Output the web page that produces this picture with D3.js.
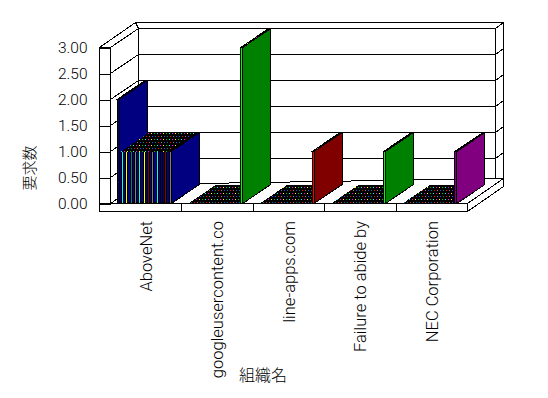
<!DOCTYPE html>
<html>
<head>
<meta charset="utf-8">
<script src="https://cdn.jsdelivr.net/npm/d3@7/dist/d3.min.js"></script>
<style>
body { margin: 0; background: #fff; }
svg { display: block; }
</style>
</head>
<body>
<script>
var categories = ["AboveNet", "googleusercontent.co", "line-apps.com", "Failure to abide by", "NEC Corporation"];
// 13 bars per organisation, left to right
var aboveNetValues = [2, 1, 1, 1, 1, 1, 1, 1, 1, 1, 1, 1, 1];
var googleValues   = [0, 0, 0, 0, 0, 0, 0, 0, 0, 0, 0, 0, 3];
var lineAppsValues = [0, 0, 0, 0, 0, 0, 0, 0, 0, 0, 0, 0, 1];
var failureValues  = [0, 0, 0, 0, 0, 0, 0, 0, 0, 0, 0, 0, 1];
var necValues      = [0, 0, 0, 0, 0, 0, 0, 0, 0, 0, 0, 0, 1];
var yTicks = [0, 0.5, 1, 1.5, 2, 2.5, 3];
var yTitle = "要求数";
var xTitle = "組織名";

// colours
var aboveNetFront = ["#000080", "#00ffff", "#ffff00", "#008080", "#808080", "#00ffff", "#ffff00",
                     "#800000", "#808080", "#00ffff", "#000080", "#800000", "#808080"];
var slabFront = ["#000080", "#00ff00", "#ff0000", "#00ff00", "#800080"];
var slabSide  = ["#000080", "#008000", "#800000", "#008000", "#800080"];

var allValues = [aboveNetValues, googleValues, lineAppsValues, failureValues, necValues];

// geometry of the 3d box
var X0 = 110.5, X1 = 467.5;   // front of plot
var LX = 99.5;                // outer edge of left wall
var FY = 211.5;               // bottom of floor
var DX = 28, DY = -19;        // depth
var TX = 8, TY = -6;          // wall thickness
var W = 2;                    // bar front width
var labelFont = "Roboto, 'Liberation Sans', Arial, sans-serif";

var svg = d3.select("body").append("svg")
    .attr("width", 548)
    .attr("height", 398);

var y = d3.scaleLinear().domain([0, 3]).range([203.5, 47.5]);
var Y0 = y(0), YT = y(3);

var xBand = d3.scaleBand().domain(categories).range([X0, X1]);
var slot = d3.scaleBand().domain(d3.range(13)).range([6.5, 6.5 + 13 * 4.36]);

// dotted fill of the bar tops
var defs = svg.append("defs");
var pat = defs.append("pattern")
    .attr("id", "dots")
    .attr("patternUnits", "userSpaceOnUse")
    .attr("width", 12).attr("height", 6);
pat.append("rect").attr("width", 12).attr("height", 6).attr("fill", "#000");
var dotColors = ["#00ffff", "#ff00ff", "#ffff00", "#00c000", "#ff0000", "#808080", "#4040ff", "#008080"];
var dotPos = [[1, 1], [4, 1], [7, 1], [10, 1], [2, 4], [5, 4], [8, 4], [11, 4]];
dotPos.forEach(function (p, i) {
    pat.append("rect").attr("x", p[0]).attr("y", p[1]).attr("width", 1).attr("height", 1)
        .attr("fill", dotColors[i]);
});

function poly(pts) {
    return pts.map(function (p) { return p.join(","); }).join(" ");
}

var frame = svg.append("g")
    .attr("shape-rendering", "crispEdges")
    .attr("fill", "#fff")
    .attr("stroke", "#000")
    .attr("stroke-width", 1);

// back wall thickness (top and right)
frame.append("polygon").attr("points", poly([[LX + DX + TX, YT + DY + TY], [X1 + DX + TX, YT + DY + TY],
    [X1 + DX, YT + DY], [X0 + DX, YT + DY]]));
frame.append("polygon").attr("points", poly([[X1 + DX, YT + DY], [X1 + DX + TX, YT + DY + TY],
    [X1 + DX + TX, FY + DY + TY], [X1 + DX, Y0 + DY]]));
// back wall
frame.append("rect")
    .attr("x", X0 + DX).attr("y", YT + DY)
    .attr("width", X1 - X0).attr("height", Y0 - YT);
// left wall top and inner side
frame.append("polygon").attr("points", poly([[LX, YT], [X0, YT], [X0 + DX, YT + DY], [LX + DX + TX, YT + DY + TY]]));
frame.append("polygon").attr("points", poly([[X0, YT], [X0 + DX, YT + DY], [X0 + DX, Y0 + DY], [X0, Y0]]));

// grid lines
var grid = yTicks.filter(function (d) { return d > 0 && d < 3; });
frame.selectAll(".hgrid").data(grid).enter().append("line")
    .attr("x1", X0 + DX).attr("x2", X1 + DX)
    .attr("y1", function (d) { return y(d) + DY; })
    .attr("y2", function (d) { return y(d) + DY; });
frame.selectAll(".dgrid").data(grid).enter().append("line")
    .attr("x1", X0).attr("x2", X0 + DX)
    .attr("y1", function (d) { return y(d); })
    .attr("y2", function (d) { return y(d) + DY; });
frame.selectAll(".rgrid").data(grid).enter().append("line")
    .attr("x1", X1 + DX).attr("x2", X1 + DX + TX)
    .attr("y1", function (d) { return y(d) + DY; })
    .attr("y2", function (d) { return y(d) + DY + TY; });

// floor
frame.append("polygon").attr("points", poly([[X0, Y0], [X1, Y0], [X1 + DX + TX, Y0 + DY + TY], [X0 + DX, Y0 + DY]]));
frame.append("polygon").attr("points", poly([[X1, Y0], [X1 + DX + TX, Y0 + DY + TY], [X1 + DX + TX, FY + DY + TY], [X1, FY]]));
frame.append("rect")
    .attr("x", LX).attr("y", Y0)
    .attr("width", X1 - LX).attr("height", FY - Y0);
frame.append("rect")
    .attr("x", LX).attr("y", YT)
    .attr("width", X0 - LX).attr("height", Y0 - YT);
frame.selectAll(".sep").data(categories.slice(1)).enter().append("line")
    .attr("x1", function (d) { return xBand(d); })
    .attr("x2", function (d) { return xBand(d); })
    .attr("y1", Y0).attr("y2", FY);

// bars
var bars = [];
categories.forEach(function (c, ci) {
    var vals = allValues[ci];
    vals.forEach(function (v, si) {
        // a top that runs into the next bar fills the whole slot
        var joined = si < vals.length - 1 && vals[si + 1] >= v;
        bars.push({ cat: c, ci: ci, si: si, value: v, joined: joined });
    });
});

var barG = svg.append("g")
    .attr("shape-rendering", "crispEdges")
    .attr("stroke", "#000")
    .attr("stroke-width", 1);
bars.forEach(function (d) {
    var x = xBand(d.cat) + slot(d.si);
    var yt = y(d.value);
    var front = d.ci === 0 ? aboveNetFront[d.si] : slabFront[d.ci];
    var side = slabSide[d.ci];
    var tw = d.joined ? slot.step() + 0.5 : W;
    if (d.value > 0) {
        barG.append("polygon")
            .attr("fill", side)
            .attr("points", poly([[x + W, Y0], [x + W, yt], [x + W + DX, yt + DY], [x + W + DX, Y0 + DY]]));
        barG.append("rect")
            .attr("fill", front)
            .attr("x", x).attr("y", yt)
            .attr("width", W).attr("height", Y0 - yt);
    }
    barG.append("polygon")
        .attr("fill", "url(#dots)")
        .attr("stroke", d.joined ? "none" : "#000")
        .attr("points", poly([[x, yt], [x + tw, yt], [x + tw + DX, yt + DY], [x + DX, yt + DY]]));
});

// y axis
var yAxis = d3.axisLeft(y)
    .tickValues(yTicks)
    .tickSize(-(X0 - LX))
    .tickPadding(12)
    .tickFormat(d3.format(".2f"));
var yg = svg.append("g")
    .attr("transform", "translate(" + LX + ",0)")
    .call(yAxis);
yg.select(".domain").remove();
yg.selectAll("line").attr("shape-rendering", "crispEdges");
yg.selectAll("text")
    .style("font-family", labelFont)
    .style("font-weight", 300)
    .style("font-size", "15.5px")
    .attr("fill", "#000");

// x axis
var xAxis = d3.axisBottom(xBand).tickSize(0);
var xg = svg.append("g")
    .attr("transform", "translate(0," + FY + ")")
    .call(xAxis);
xg.select(".domain").remove();
xg.selectAll("text")
    .style("font-family", labelFont)
    .style("font-weight", 300)
    .style("font-size", "16.5px")
    .attr("fill", "#000")
    .attr("transform", "rotate(-90)")
    .attr("x", -9.5)
    .attr("y", 0)
    .attr("dy", ".35em")
    .style("text-anchor", "end");

svg.append("text")
    .attr("transform", "translate(30,168) rotate(-90)")
    .attr("text-anchor", "middle")
    .attr("dy", ".35em")
    .style("font-family", "'Noto Sans CJK JP', sans-serif")
    .style("font-weight", 300)
    .style("font-size", "15px")
    .text(yTitle);

svg.append("text")
    .attr("x", 263)
    .attr("y", 375)
    .attr("text-anchor", "middle")
    .attr("dy", ".35em")
    .style("font-family", "'Noto Sans CJK JP', sans-serif")
    .style("font-weight", 300)
    .style("font-size", "16px")
    .text(xTitle);
</script>
</body>
</html>
